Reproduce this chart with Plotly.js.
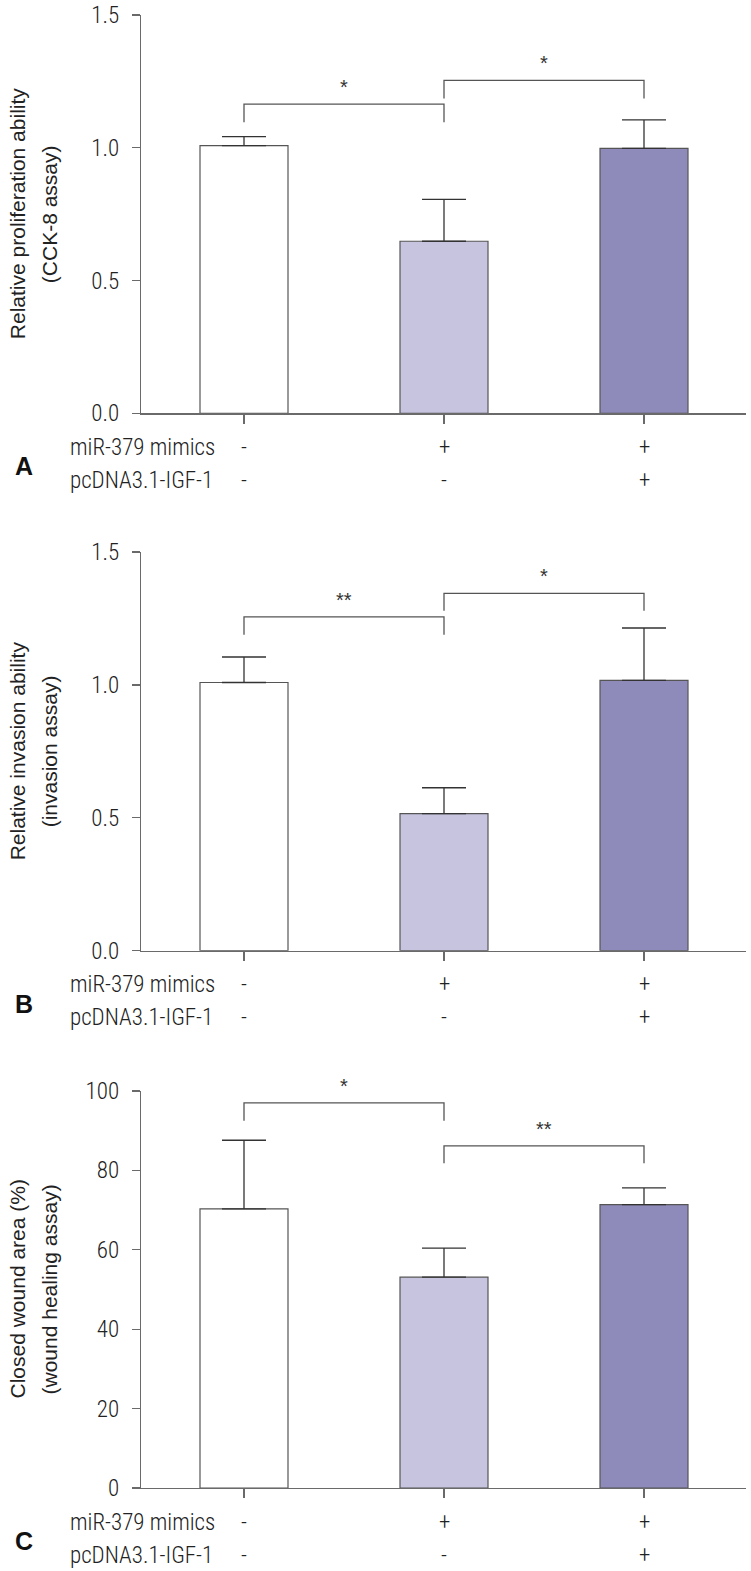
<!DOCTYPE html>
<html>
<head>
<meta charset="utf-8">
<script src="https://cdn.plot.ly/plotly-3.0.1.min.js"></script>
<style>html,body{margin:0;padding:0;background:#fff;}#chart{width:751px;height:1571px;}</style>
</head>
<body>
<div id="chart"></div>
<script>
// ---- data ----
const categories = [0, 1, 2];
const mimicsRow = ['-', '+', '+'];
const igfRow = ['-', '-', '+'];
const rowLabels = ['miR-379 mimics', 'pcDNA3.1-IGF-1'];
const barColors = ['#ffffff', '#c6c4df', '#8e8aba'];

const panelLetters = ['A', 'B', 'C'];
const yTitle1 = ['Relative proliferation ability', 'Relative invasion ability', 'Closed wound area (%)'];
const yTitle2 = ['(CCK-8 assay)', '(invasion assay)', '(wound healing assay)'];

// Panel A: CCK-8
const meanA = [1.008, 0.648, 0.998];
const errA = [0.034, 0.158, 0.107];
// Panel B: invasion
const meanB = [1.009, 0.516, 1.017];
const errB = [0.096, 0.097, 0.197];
// Panel C: wound healing
const meanC = [70.3, 53.1, 71.4];
const errC = [17.3, 7.3, 4.2];

// significance brackets: [from, to, top, legBottom, label]
const sigA = [[0, 1, 1.164, 1.096, '*'], [1, 2, 1.254, 1.186, '*']];
const sigB = [[0, 1, 1.256, 1.189, '**'], [1, 2, 1.344, 1.279, '*']];
const sigC = [[0, 1, 97.0, 92.5, '*'], [1, 2, 86.2, 81.8, '**']];

const yRanges = [[0, 1.5], [0, 1.5], [0, 100]];
const yDticks = [0.5, 0.5, 20];
const yFormats = ['.1f', '.1f', 'd'];

// ---- layout geometry (pixels) ----
const W = 751, H = 1571, L = 141, R = 5;
const panelPx = [[15, 413.3], [552, 950.7], [1091, 1488]];
const plotW = W - L - R;
const px2paperX = p => (p - L) / plotW;

const condensed = '"Roboto Condensed", "Archivo Narrow", "DejaVu Sans Condensed", sans-serif';
const regular = '"Liberation Sans", Arial, sans-serif';
const axisColor = '#6a6a6a';
const textColor = '#222';
const condFont = {family: condensed, size: 23, weight: 300, color: textColor};

const means = [meanA, meanB, meanC];
const errs = [errA, errB, errC];
const sigs = [sigA, sigB, sigC];

const traces = [];
const annotations = [];
const layout = {
  width: W, height: H,
  margin: {l: L, r: R, t: 0, b: 0, pad: 0},
  paper_bgcolor: '#fff', plot_bgcolor: 'rgba(0,0,0,0)',
  showlegend: false,
  font: {family: condensed, color: textColor},
  annotations: annotations
};

for (let p = 0; p < 3; p++) {
  const sfx = p === 0 ? '' : String(p + 1);
  const xa = 'x' + sfx, ya = 'y' + sfx;
  traces.push({
    type: 'bar', x: categories, y: means[p], width: 0.44,
    xaxis: xa, yaxis: ya,
    marker: {color: barColors, line: {color: '#555', width: 1.2}},
    error_y: {type: 'data', symmetric: false, array: errs[p], arrayminus: [0, 0, 0],
              color: '#333', thickness: 1.3, width: 22},
    hoverinfo: 'none'
  });
  sigs[p].forEach(s => {
    traces.push({
      type: 'scatter', mode: 'lines', xaxis: xa, yaxis: ya,
      x: [s[0], s[0], s[1], s[1]], y: [s[3], s[2], s[2], s[3]],
      line: {color: '#555', width: 1.3}, hoverinfo: 'none', cliponaxis: false
    });
    annotations.push({
      xref: xa, yref: ya, x: (s[0] + s[1]) / 2, y: s[2], text: s[4],
      showarrow: false, yanchor: 'bottom', yshift: 4,
      font: {family: regular, size: 20, color: '#333'}
    });
  });
  const [topPx, botPx] = panelPx[p];
  layout['xaxis' + sfx] = {
    domain: [0, 1], anchor: ya, range: [-0.515, 2.51],
    showline: true, linecolor: axisColor, linewidth: 1.3,
    ticks: 'outside', ticklen: 9, tickcolor: axisColor, tickwidth: 1.3,
    tickvals: categories, showticklabels: false,
    showgrid: false, zeroline: false, fixedrange: true
  };
  layout['yaxis' + sfx] = {
    domain: [1 - botPx / H, 1 - topPx / H], anchor: xa, range: yRanges[p],
    dtick: yDticks[p], tick0: 0, tickformat: yFormats[p],
    showline: true, linecolor: axisColor, linewidth: 1.3,
    ticks: 'outside', ticklen: 8, tickcolor: axisColor, tickwidth: 1.3,
    ticklabelstandoff: 8,
    tickfont: condFont,
    showgrid: false, zeroline: false, fixedrange: true
  };
  const yd = ya + ' domain';
  // y titles (two lines)
  annotations.push({xref: 'paper', yref: yd, x: px2paperX(17), y: 0.5, xanchor: 'center', yanchor: 'middle',
    textangle: -90, text: yTitle1[p], showarrow: false, font: {family: regular, size: 21, color: textColor}});
  annotations.push({xref: 'paper', yref: yd, x: px2paperX(49), y: 0.5, xanchor: 'center', yanchor: 'middle',
    textangle: -90, text: yTitle2[p], showarrow: false, font: {family: regular, size: 21, color: textColor}});
  // row labels
  rowLabels.forEach((t, r) => {
    annotations.push({xref: 'paper', yref: yd, x: px2paperX(68), y: 0, xanchor: 'left', yanchor: 'middle',
      yshift: -34 - 33 * r, text: t, showarrow: false, font: condFont});
  });
  [mimicsRow, igfRow].forEach((row, r) => {
    row.forEach((t, i) => {
      annotations.push({xref: xa, yref: yd, x: categories[i], y: 0, xanchor: 'center', yanchor: 'middle',
        yshift: -34 - 33 * r, text: t, showarrow: false, font: condFont});
    });
  });
  // panel letter
  annotations.push({xref: 'paper', yref: yd, x: px2paperX(24), y: 0, xanchor: 'center', yanchor: 'middle',
    yshift: -53, text: '<b>' + panelLetters[p] + '</b>', showarrow: false,
    font: {family: regular, size: 25, color: '#111'}});
}

Plotly.newPlot('chart', traces, layout, {staticPlot: true, displayModeBar: false});
</script>
</body>
</html>
